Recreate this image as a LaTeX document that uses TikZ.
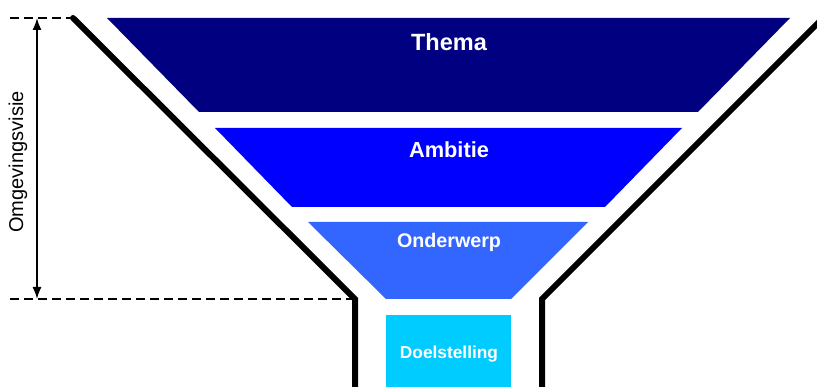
\documentclass[tikz,border=0pt]{standalone}
\usepackage{fontspec}
\setmainfont{Liberation Sans}
\usetikzlibrary{arrows.meta}
\definecolor{themac}{HTML}{000080}
\definecolor{ambc}{HTML}{0000FF}
\definecolor{ondc}{HTML}{3366FF}
\definecolor{doelc}{HTML}{00CCFF}
\tikzset{
  funnel/.style={line width=6pt, line join=miter, line cap=round},
  guide/.style={line width=1.6pt, dash pattern=on 9pt off 5pt},
  lbl/.style={text=white, font=\bfseries, inner sep=0pt},
}
\begin{document}
\begin{tikzpicture}[x=1pt,y=-1pt]
\useasboundingbox (0,0) rectangle (817,387);
\fill[white] (0,0) rectangle (817,387);
\begin{scope}
\clip (0,0) rectangle (817,387);
% layers
\fill[themac] (107,18) -- (790,18) -- (698,112) -- (199,112) -- cycle;
\fill[ambc] (215,128) -- (682,128) -- (605,207) -- (292,207) -- cycle;
\fill[ondc] (308,222) -- (588,222) -- (511,299) -- (386,299) -- cycle;
\fill[doelc] (386,315) rectangle (511,395);
% funnel walls
\draw[funnel] (73,18) -- (355,299) -- (355,400);
\draw[funnel] (835,6) -- (542,299) -- (542,400);
\end{scope}
% guides
\coordinate (tl) at (10,18);
\coordinate (tr) at (72,18);
\coordinate (bl) at (10,299);
\coordinate (br) at (352,299);
\draw[guide] (tl) -- (tr);
\draw[guide] (bl) -- (br);
\coordinate (at) at (37,18);
\coordinate (ab) at (37,299);
\draw[line width=1.6pt, {Latex[length=12pt,width=9pt]}-{Latex[length=12pt,width=9pt]}] (at) -- (ab);
% labels
\node[lbl, font=\fontsize{23.5}{25}\selectfont\bfseries] (thema) at (449,42) {Thema};
\node[lbl, font=\fontsize{21.8}{23}\selectfont\bfseries] (ambitie) at (449,150) {Ambitie};
\node[lbl, font=\fontsize{19.7}{21}\selectfont\bfseries] (onder) at (449,242) {Onderwerp};
\node[lbl, font=\fontsize{17.3}{19}\selectfont\bfseries] (doel) at (449,354) {Doelstelling};
\node[inner sep=0pt, rotate=90, font=\fontsize{20}{22}\selectfont] (omg) at (18,162) {Omgevingsvisie};
\end{tikzpicture}
\end{document}
